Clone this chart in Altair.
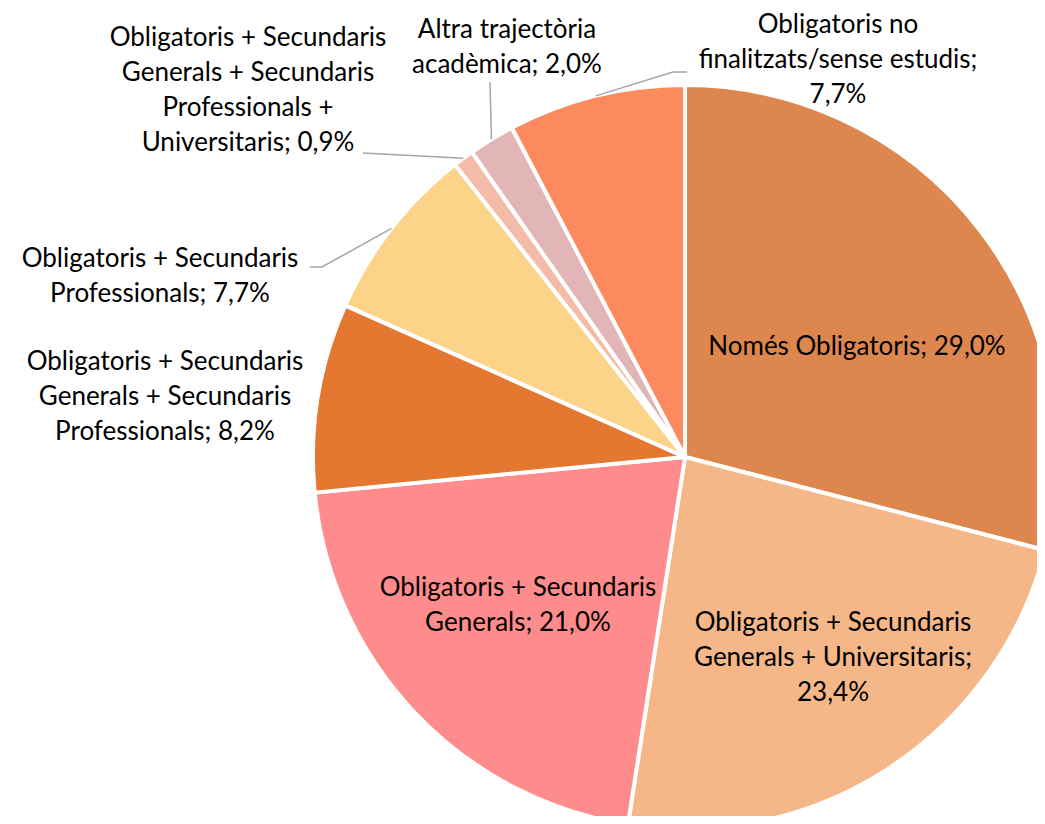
import math
import altair as alt
import pandas as pd

# ---- data ----
categories = [
    "Només Obligatoris",
    "Obligatoris + Secundaris Generals + Universitaris",
    "Obligatoris + Secundaris Generals",
    "Obligatoris + Secundaris Generals + Secundaris Professionals",
    "Obligatoris + Secundaris Professionals",
    "Obligatoris + Secundaris Generals + Secundaris Professionals + Universitaris",
    "Altra trajectòria acadèmica",
    "Obligatoris no finalitzats/sense estudis",
]
values = [29.0, 23.4, 21.0, 8.2, 7.7, 0.9, 2.0, 7.7]
label_lines = [
    ["Només Obligatoris; 29,0%"],
    ["Obligatoris + Secundaris", "Generals + Universitaris;", "23,4%"],
    ["Obligatoris + Secundaris", "Generals; 21,0%"],
    ["Obligatoris + Secundaris", "Generals + Secundaris", "Professionals; 8,2%"],
    ["Obligatoris + Secundaris", "Professionals; 7,7%"],
    ["Obligatoris + Secundaris", "Generals + Secundaris", "Professionals +", "Universitaris; 0,9%"],
    ["Altra trajectòria", "acadèmica; 2,0%"],
    ["Obligatoris no", "finalitzats/sense estudis;", "7,7%"],
]
colors = ["#DD874E", "#F5B787", "#FF8C8C", "#E47830", "#FBD389", "#F4BBA8", "#E2B5B7", "#FD8A5E"]

# ---- layout (page pixels) ----
M = 8
CX, CY, R = 685 - M, 457 - M, 372
# centre x and first-line y of each label
label_pos = [(857, 347), (833, 623), (518, 588), (165, 362), (160, 259), (248, 38), (507, 30), (838, 25)]
# elbow points of leader lines (label side), only for outside small slices
leader_pts = {4: [(322, 267), (310, 267)], 5: [(363, 153)], 6: [(490, 82)], 7: [(673, 72), (687, 72)]}

pie = pd.DataFrame({"cat": categories, "value": values, "order": list(range(len(values)))})

total = sum(values)
mids = []
acc = 0.0
for v in values:
    mids.append((acc + v / 2) / total * 2 * math.pi)
    acc += v

lab = pd.DataFrame({
    "text": label_lines,
    "x": [p[0] - M for p in label_pos],
    "y": [p[1] - M for p in label_pos],
})

rows = []
for i, pts in leader_pts.items():
    a = mids[i]
    rows.append({"g": i, "k": 0, "x": CX + R * math.sin(a), "y": CY - R * math.cos(a)})
    for k, (px, py) in enumerate(pts, start=1):
        rows.append({"g": i, "k": k, "x": px - M, "y": py - M})
lead = pd.DataFrame(rows)

arcs = alt.Chart(pie).mark_arc(radius=R, stroke="white", strokeWidth=4).encode(
    theta=alt.Theta("value:Q", stack=True),
    color=alt.Color("cat:N", scale=alt.Scale(domain=categories, range=colors), legend=None),
    order=alt.Order("order:Q"),
    x=alt.value(CX),
    y=alt.value(CY),
)

lines = alt.Chart(lead).mark_line(color="#A6A6A6", strokeWidth=1.5).encode(
    x=alt.X("x:Q", scale=None),
    y=alt.Y("y:Q", scale=None),
    detail="g:N",
    order="k:Q",
)

texts = alt.Chart(lab).mark_text(
    font="Lato", fontSize=26, color="#000000", align="center", baseline="middle", lineHeight=35
).encode(
    x=alt.X("x:Q", scale=None),
    y=alt.Y("y:Q", scale=None),
    text="text",
)

chart = alt.layer(arcs, lines, texts).properties(
    width=1029, height=808, padding=0, autosize="none"
).configure_view(stroke=None)

chart.save("out.html", embed_options={"renderer": "svg", "actions": False})
